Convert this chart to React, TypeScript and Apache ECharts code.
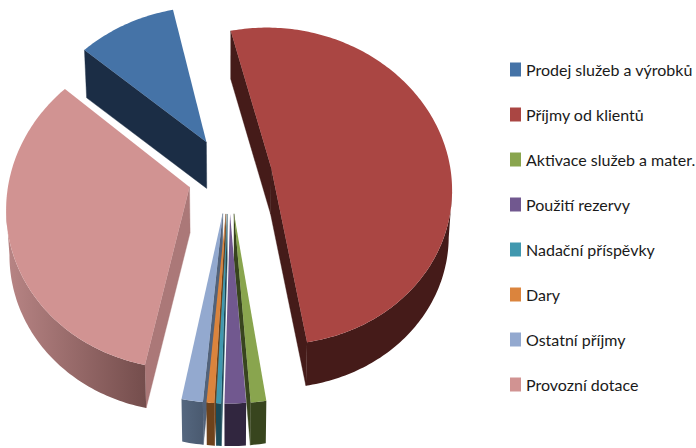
import React, { useEffect, useRef } from "react";
import * as echarts from "echarts";

const names = ["Prodej služeb a výrobků", "Příjmy od klientů", "Aktivace služeb a mater.", "Použití rezervy", "Nadační příspěvky", "Dary", "Ostatní příjmy", "Provozní dotace"];
const values = [10, 51.2, 1.2, 1.65, 0.4, 0.6, 1.65, 33.3];
const explodes = [0.25, 0.24, 0.24, 0.24, 0.24, 0.24, 0.24, 0.23];
const faceColors = ["#4573a7", "#aa4643", "#89a54e", "#71588f", "#4198af", "#db843d", "#93a9cf", "#d19392"];
const sideColors = ["#1b2d45", "#451b19", "#38451e", "#31263f", "#1b4a58", "#6d421b", "#52627a", "#ab7878"];
const outerStart = ["#1b2d45", "#451b19", "#38451e", "#31263f", "#1b4a58", "#6d421b", "#55677f", "#b88585"];
const outerEnd = ["#1b2d45", "#451b19", "#38451e", "#31263f", "#1b4a58", "#6d421b", "#4a5a70", "#744d4c"];

const CX = 229, CY = 175, A = 180, B = 158, K = 0.115, DEPTH = 46, START = -49;
const TOTAL = values.reduce((s, v) => s + v, 0);

function project(u: number, v: number, low: boolean): [number, number] {
  const w = 1 - K * v;
  const s = low ? 0.985 : 1;
  return [CX + (s * A * u) / w, CY + (s * B * v) / w + (low ? DEPTH : 0)];
}

function sliceGeometry(index: number) {
  const before = values.slice(0, index).reduce((s, v) => s + v, 0);
  const a0 = START + (before / TOTAL) * 360;
  const a1 = a0 + (values[index] / TOTAL) * 360;
  const mid = (((a0 + a1) / 2) * Math.PI) / 180;
  const ou = explodes[index] * Math.sin(mid), ov = -explodes[index] * Math.cos(mid);
  const steps = Math.max(2, Math.ceil(a1 - a0));
  const rim: [number, number][] = [];
  for (let i = 0; i <= steps; i++) {
    const t = ((a0 + ((a1 - a0) * i) / steps) * Math.PI) / 180;
    rim.push([ou + Math.sin(t), ov - Math.cos(t)]);
  }
  return { apex: [ou, ov] as [number, number], rim };
}

function wall(a: [number, number], b: [number, number], fill: any, z: number) {
  const a2 = project(a[0], a[1], false), b2 = project(b[0], b[1], false);
  const a3 = project(a[0], a[1], true), b3 = project(b[0], b[1], true);
  return { type: "polygon", z2: z, shape: { points: [a2, b2, b3, a3] }, style: { fill, stroke: fill, lineWidth: 0.4 }, _dx: b2[0] - a2[0] };
}

function renderSlice(index: number) {
  return () => {
    const { apex, rim } = sliceGeometry(index);
    const children: any[] = [];
    const first = wall(apex, rim[0], sideColors[index], 1);
    const last = wall(rim[rim.length - 1], apex, sideColors[index], 1);
    if (first._dx < 0) children.push(first);
    if (last._dx < 0) children.push(last);
    const run: [number, number][] = [];
    for (let i = 0; i < rim.length; i++) {
      const p = project(rim[i][0], rim[i][1], false);
      const prev = i > 0 ? project(rim[i - 1][0], rim[i - 1][1], false) : null;
      const next = i < rim.length - 1 ? project(rim[i + 1][0], rim[i + 1][1], false) : null;
      if ((prev && p[0] < prev[0]) || (next && next[0] < p[0])) run.push(rim[i]);
    }
    if (run.length > 1) {
      const top = run.map((r) => project(r[0], r[1], false));
      const bottom = run.map((r) => project(r[0], r[1], true)).reverse();
      const xs = top.map((p) => p[0]);
      const x0 = Math.min(...xs), x1 = Math.max(...xs);
      const fill = new echarts.graphic.LinearGradient(0, 0, 1, 0, [
        { offset: 0, color: outerStart[index] },
        { offset: 1, color: outerEnd[index] },
      ]);
      children.push({ type: "polygon", z2: 2, shape: { points: [...top, ...bottom] }, style: { fill: x1 > x0 ? fill : outerEnd[index] } });
    }
    const face = [apex, ...rim].map((r) => project(r[0], r[1], false));
    children.push({ type: "polygon", z2: 3, shape: { points: face }, style: { fill: faceColors[index] } });
    return { type: "group", children };
  };
}

export default function App() {
  const ref = useRef<HTMLDivElement>(null);
  useEffect(() => {
    const chart = echarts.init(ref.current!, null, { renderer: "svg" });
    chart.setOption({
      animation: false,
      backgroundColor: "#ffffff",
      color: faceColors,
      legend: {
        show: true,
        orient: "vertical",
        left: 510,
        top: 59,
        padding: 0,
        itemWidth: 11,
        itemHeight: 14,
        itemGap: 24,
        icon: "rect",
        selectedMode: false,
        data: names,
        textStyle: { fontFamily: "Lato, sans-serif", fontSize: 16, color: "#1a1a1a", lineHeight: 21 },
      },
      series: names.map((name, i) => ({
        type: "custom",
        name,
        coordinateSystem: "none",
        silent: true,
        clip: false,
        z: i === 7 ? 3 : i >= 2 ? 4 : 2,
        renderItem: renderSlice(i),
        data: [values[i]],
      })),
    });
    return () => chart.dispose();
  }, []);
  return <div ref={ref} style={{ position: "fixed", left: 0, top: 0, width: 696, height: 448 }} />;
}
